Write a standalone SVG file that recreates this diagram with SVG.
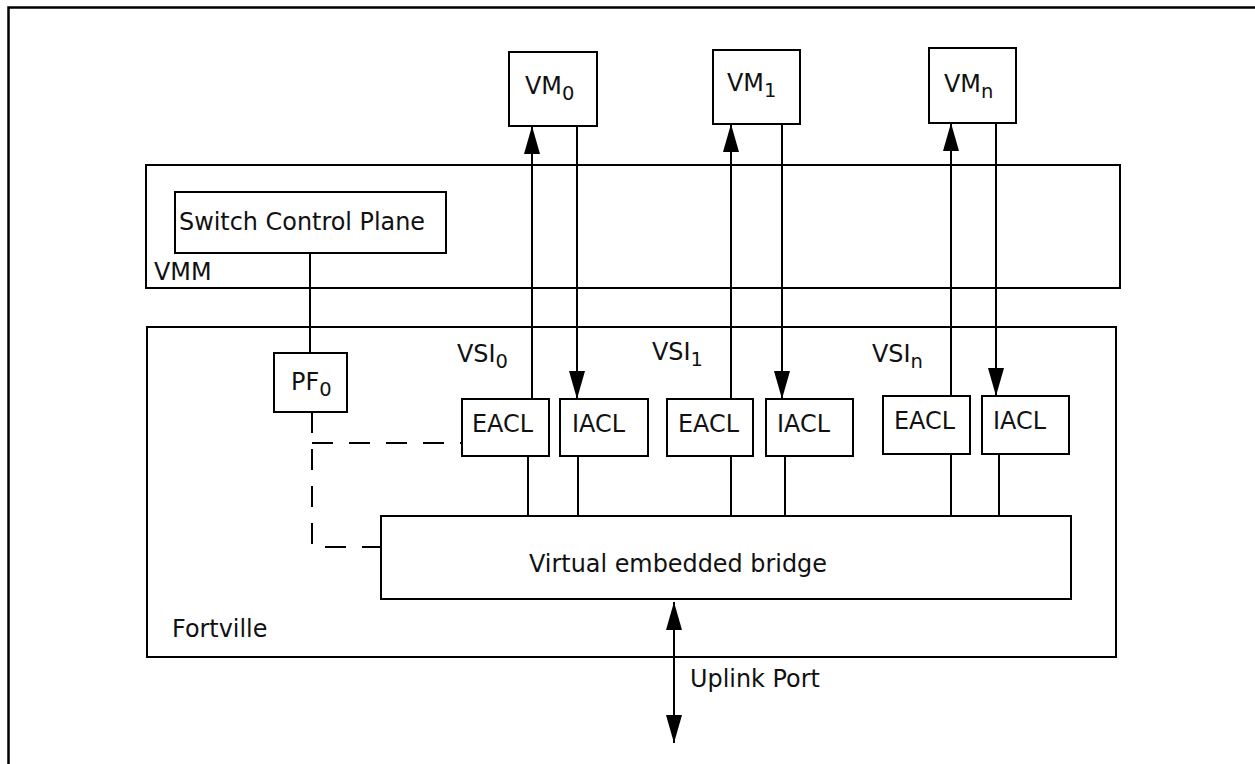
<svg xmlns="http://www.w3.org/2000/svg" width="1255" height="764" viewBox="0 0 1255 764">
<style>
.b{fill:#fff;stroke:#000;stroke-width:2}
.c{fill:none;stroke:#000;stroke-width:2}
.d{fill:none;stroke:#000;stroke-width:2;stroke-dasharray:21 16}
text{font-family:"DejaVu Sans",Verdana,sans-serif;font-size:23.9px;fill:#111}
.s{font-size:19.5px}
</style>
<defs>
<marker id="ah" viewBox="0 0 28 16" refX="28" refY="8" markerWidth="28" markerHeight="16" markerUnits="userSpaceOnUse" orient="auto-start-reverse">
<path d="M0,0 L28,8 L0,16 z" fill="#000"/>
</marker>
</defs>
<rect width="1255" height="764" fill="#fff"/>
<path d="M8.5,770 V7.5 H1260" fill="none" stroke="#000" stroke-width="2.5"/>

<g id="vmm"><rect class="b" x="146" y="165" width="974" height="123"/><text x="154" y="280">VMM</text></g>
<g id="fortville"><rect class="b" x="147" y="327" width="969" height="330"/><text x="172" y="637">Fortville</text></g>

<g id="connectors">
<line class="c" x1="310" y1="253" x2="310" y2="353"/>
<path class="d" d="M312,412 V547 H381"/>
<path class="d" d="M312,443 H462"/>
<line class="c" x1="532" y1="399" x2="532" y2="126" marker-end="url(#ah)"/>
<line class="c" x1="577" y1="126" x2="577" y2="399" marker-end="url(#ah)"/>
<line class="c" x1="731" y1="399" x2="731" y2="124" marker-end="url(#ah)"/>
<line class="c" x1="782" y1="124" x2="782" y2="399" marker-end="url(#ah)"/>
<line class="c" x1="951" y1="396" x2="951" y2="123" marker-end="url(#ah)"/>
<line class="c" x1="996" y1="123" x2="996" y2="396" marker-end="url(#ah)"/>
<line class="c" x1="528" y1="456" x2="528" y2="516"/>
<line class="c" x1="578" y1="456" x2="578" y2="516"/>
<line class="c" x1="731" y1="456" x2="731" y2="516"/>
<line class="c" x1="785" y1="456" x2="785" y2="516"/>
<line class="c" x1="951" y1="454" x2="951" y2="516"/>
<line class="c" x1="999" y1="454" x2="999" y2="516"/>
<line class="c" x1="674" y1="602" x2="674" y2="743" marker-start="url(#ah)" marker-end="url(#ah)"/>
</g>

<g id="vm0"><rect class="b" x="509" y="52" width="88" height="74"/><text x="525" y="94">VM<tspan class="s" dy="6">0</tspan></text></g>
<g id="vm1"><rect class="b" x="713" y="50" width="87" height="74"/><text x="727" y="91">VM<tspan class="s" dy="6">1</tspan></text></g>
<g id="vmn"><rect class="b" x="929" y="48" width="87" height="75"/><text x="944" y="92">VM<tspan class="s" dy="6">n</tspan></text></g>

<g id="scp"><rect class="b" x="175" y="192" width="271" height="61"/><text x="179" y="230">Switch Control Plane</text></g>
<g id="pf0"><rect class="b" x="274" y="353" width="73" height="59"/><text x="291" y="390">PF<tspan class="s" dy="6">0</tspan></text></g>

<text x="457" y="362">VSI<tspan class="s" dy="6">0</tspan></text>
<text x="652" y="360">VSI<tspan class="s" dy="6">1</tspan></text>
<text x="872" y="362">VSI<tspan class="s" dy="6">n</tspan></text>

<g id="eacl0"><rect class="b" x="462" y="399" width="87" height="57"/><text x="472" y="432">EACL</text></g>
<g id="iacl0"><rect class="b" x="560" y="399" width="88" height="57"/><text x="572" y="432">IACL</text></g>
<g id="eacl1"><rect class="b" x="667" y="399" width="86" height="57"/><text x="678" y="432">EACL</text></g>
<g id="iacl1"><rect class="b" x="766" y="399" width="87" height="57"/><text x="777" y="432">IACL</text></g>
<g id="eacln"><rect class="b" x="883" y="396" width="87" height="58"/><text x="894" y="429">EACL</text></g>
<g id="iacln"><rect class="b" x="982" y="396" width="87" height="58"/><text x="993" y="429">IACL</text></g>

<g id="bridge"><rect class="b" x="381" y="516" width="690" height="83"/><text x="529" y="572">Virtual embedded bridge</text></g>
<text x="690" y="687">Uplink Port</text>
</svg>
